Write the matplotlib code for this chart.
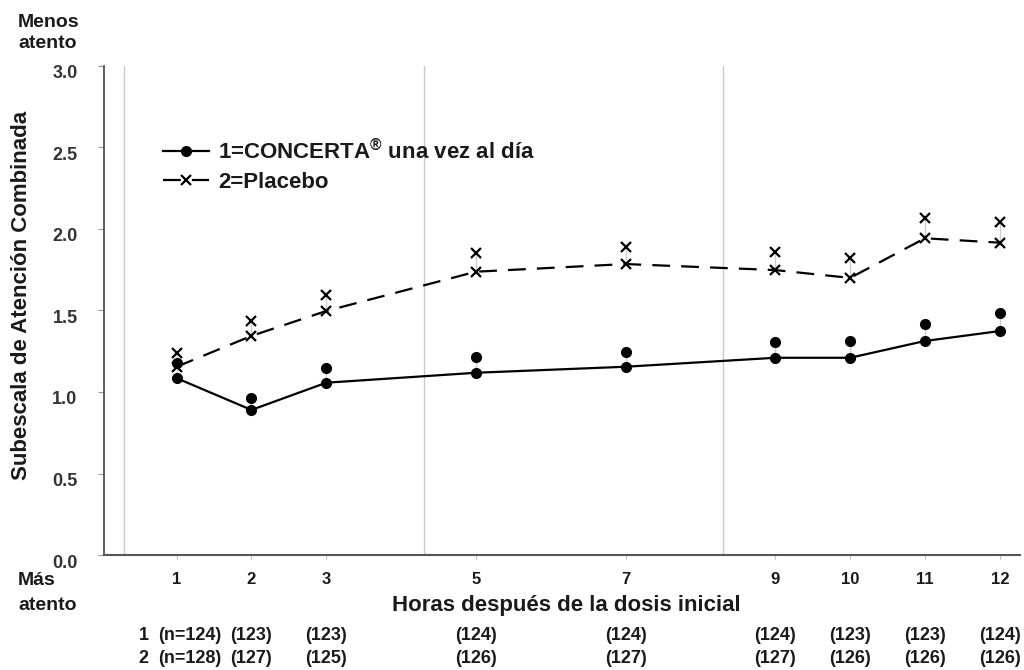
import numpy as np
import matplotlib.pyplot as plt
import matplotlib.transforms as mtransforms

# data
hours = [1, 2, 3, 5, 7, 9, 10, 11, 12]
concerta_mean = [1.085, 0.89, 1.057, 1.118, 1.155, 1.21, 1.21, 1.313, 1.374]
concerta_upper = [1.176, 0.962, 1.145, 1.216, 1.243, 1.305, 1.312, 1.42, 1.485]
placebo_mean = [1.155, 1.344, 1.497, 1.738, 1.785, 1.748, 1.70, 1.943, 1.916]
placebo_upper = [1.237, 1.435, 1.595, 1.851, 1.891, 1.86, 1.82, 2.066, 2.04]
n_concerta = ['(n=124)', '(123)', '(123)', '(124)', '(124)', '(124)', '(123)', '(123)', '(124)']
n_placebo = ['(n=128)', '(127)', '(125)', '(126)', '(127)', '(127)', '(126)', '(126)', '(126)']
separators = [0.3, 4.3, 8.3]

plt.rcParams['font.family'] = ['Liberation Sans', 'DejaVu Sans']
plt.rcParams['mathtext.fontset'] = 'custom'
plt.rcParams['mathtext.rm'] = 'Liberation Sans:bold'
txt = '#1a1a1a'

fig = plt.figure(figsize=(10.24, 6.70), dpi=100)
ax = fig.add_axes([104 / 1024, 1 - 555 / 670, (1020 - 104) / 1024, (555 - 66) / 670])

for s in separators:
    ax.axvline(s, color='#c8c8c8', lw=1, zorder=0)

# connectors mean -> upper
ax.vlines(hours, concerta_mean, concerta_upper, color='#cccccc', lw=1, zorder=1)
ax.vlines(hours, placebo_mean, placebo_upper, color='#cccccc', lw=1, zorder=1)

ax.plot(hours, concerta_mean, '-', color='black', lw=1.6, marker='o', ms=7,
        label='1=CONCERTA$^{\\mathrm{®}}$ una vez al día', zorder=3)
ax.plot(hours, placebo_mean, color='black', lw=1.6, ls=(0, (8, 5)), marker='x', ms=6.5, mew=1.6,
        label='2=Placebo', zorder=3)
ax.plot(hours, concerta_upper, 'o', color='black', ms=7, zorder=3)
ax.plot(hours, placebo_upper, 'x', color='black', ms=6.5, mew=1.6, zorder=3)

ax.set_xlim(0.03, 12.27)
ax.set_ylim(0, 3.0)
yt = np.arange(0, 3.01, 0.5)
ax.set_yticks(yt)
ax.set_yticklabels([f'{v:.1f}' for v in yt], fontweight='bold', fontsize=13, color='#333333')
ax.set_xticks(hours)
ax.set_xticklabels([str(h) for h in hours], fontweight='bold', fontsize=12, color=txt)
ax.tick_params(axis='x', length=3, color='#bbbbbb', pad=9)
ax.tick_params(axis='y', length=4, color='#999999', pad=15)
shift = mtransforms.ScaledTranslation(0, -6 / 100, fig.dpi_scale_trans)
for lab in ax.get_yticklabels():
    lab.set_transform(lab.get_transform() + shift)

ax.spines['top'].set_visible(False)
ax.spines['right'].set_visible(False)
ax.spines['left'].set_color('#444444')
ax.spines['left'].set_linewidth(1.2)
ax.spines['bottom'].set_color('#555555')
ax.spines['bottom'].set_linewidth(1.5)

ax.set_ylabel('Subescala de Atención Combinada', fontweight='bold', fontsize=16, color=txt)
ax.yaxis.set_label_coords(-0.079, 0.53)

trans = mtransforms.blended_transform_factory(ax.transData, ax.transAxes)
ax.text(0.505, -0.104, 'Horas después de la dosis inicial', transform=ax.transAxes,
        ha='center', va='center', fontsize=16, fontweight='bold', color=txt)

for row, (lab, vals) in enumerate([('1', n_concerta), ('2', n_placebo)]):
    y = -0.164 - row * 0.047
    ax.text(0.56, y, lab, transform=trans, ha='center', va='center', fontsize=13,
            fontweight='bold', color=txt)
    for h, v in zip(hours, vals):
        xh = h + 0.18 if h == 1 else h
        ax.text(xh, y, v, transform=trans, ha='center', va='center', fontsize=13,
                fontweight='bold', color=txt)

fig.text(18 / 1024, 1 - 33 / 670, 'Menos\natento', ha='left', va='center', multialignment='left',
         fontsize=14, fontweight='bold', color=txt, linespacing=1.35)
fig.text(18 / 1024, 1 - 593 / 670, 'Más\natento', ha='left', va='center', multialignment='left',
         fontsize=14, fontweight='bold', color=txt, linespacing=1.6)

leg = ax.legend(loc='upper left', bbox_to_anchor=(0.052, 0.874), frameon=False, borderpad=0,
                fontsize=16, handlelength=2.1, handletextpad=0.4, labelspacing=0.35)
for t in leg.get_texts():
    t.set_fontweight('bold')
    t.set_color(txt)

fig.savefig('out.png', dpi=100)
